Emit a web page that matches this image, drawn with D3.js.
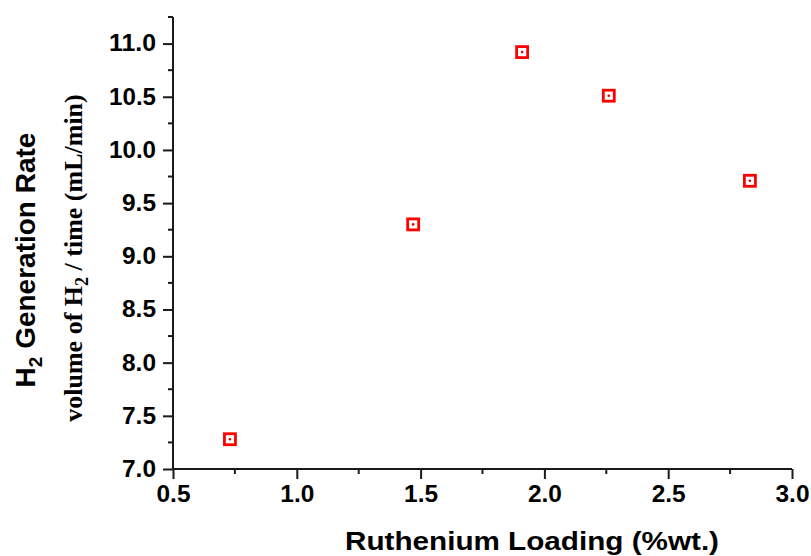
<!DOCTYPE html>
<html><head><meta charset="utf-8">
<script src="https://cdn.jsdelivr.net/npm/d3@7"></script>
<style>body{margin:0;background:#fff}svg{display:block}</style>
</head><body>
<svg id="c" width="811" height="556"></svg>
<script>
const loading = [0.73, 1.47, 1.91, 2.26, 2.83];
const rate = [7.28, 9.30, 10.92, 10.51, 9.71];
const xTicks = [0.5, 1.0, 1.5, 2.0, 2.5, 3.0];
const yTicks = [7.0, 7.5, 8.0, 8.5, 9.0, 9.5, 10.0, 10.5, 11.0];
const xMinor = [0.75, 1.25, 1.75, 2.25, 2.75];
const yMinor = [7.25, 7.75, 8.25, 8.75, 9.25, 9.75, 10.25, 10.75, 11.25];

const svg = d3.select("#c");
const x = d3.scaleLinear().domain([0.5, 3.0]).range([173, 792]);
const y = d3.scaleLinear().domain([7, 11.25]).range([469, 17]);
const axisColor = "#1a1a1a";

// minor ticks
const gx = svg.append("g").attr("transform", "translate(0,469)");
gx.selectAll("line.minor").data(xMinor).join("line")
  .attr("x1", d => x(d)).attr("x2", d => x(d)).attr("y1", 0).attr("y2", 5)
  .attr("stroke", axisColor).attr("stroke-width", 2);
const gy = svg.append("g").attr("transform", "translate(173,0)");
gy.selectAll("line.minor").data(yMinor).join("line")
  .attr("y1", d => y(d)).attr("y2", d => y(d)).attr("x1", 0).attr("x2", -5)
  .attr("stroke", axisColor).attr("stroke-width", 2);

// major axes
const xAxis = d3.axisBottom(x).tickValues(xTicks).tickFormat(d3.format(".1f")).tickSize(10).tickSizeOuter(0).tickPadding(7);
const yAxis = d3.axisLeft(y).tickValues(yTicks).tickFormat(d3.format(".1f")).tickSize(10).tickSizeOuter(0).tickPadding(7);
gx.call(xAxis);
gy.call(yAxis);
[gx, gy].forEach(g => {
  g.select(".domain").attr("stroke", axisColor).attr("stroke-width", 2);
  g.selectAll(".tick line").attr("stroke", axisColor).attr("stroke-width", 2);
  g.selectAll(".tick text").attr("fill", "#000")
    .attr("font-family", "'Liberation Sans', Arial, sans-serif")
    .attr("font-weight", "bold").attr("font-size", 23);
});
gx.select(".domain").attr("d", "M" + x(0.5) + ",0H" + x(3.0));
gy.select(".domain").attr("d", "M0," + y(11.25) + "V" + y(7));
gx.selectAll(".tick text").attr("dy", "0.71em")
  .each(function(d){ d3.select(this).attr("textLength", 34).attr("lengthAdjust", "spacingAndGlyphs"); });
gy.selectAll(".tick text")
  .each(function(d){ const t = d3.select(this); t.attr("textLength", t.text().length === 4 ? 47 : 34).attr("lengthAdjust", "spacingAndGlyphs"); });

// markers
const pts = svg.append("g");
pts.selectAll("rect").data(loading).join("rect")
  .attr("x", (d, i) => x(d) - 5.5).attr("y", (d, i) => y(rate[i]) - 5.5)
  .attr("width", 11).attr("height", 11)
  .attr("fill", "none").attr("stroke", "#f00").attr("stroke-width", 2.8);
pts.selectAll("circle").data(loading).join("circle")
  .attr("cx", d => x(d)).attr("cy", (d, i) => y(rate[i])).attr("r", 1.3).attr("fill", "#d00");

// x title
svg.append("text").attr("x", 532).attr("y", 550).attr("text-anchor", "middle")
  .attr("font-family", "'Liberation Sans', Arial, sans-serif").attr("font-weight", "bold")
  .attr("font-size", 25).attr("fill", "#000")
  .attr("textLength", 374).attr("lengthAdjust", "spacingAndGlyphs")
  .text("Ruthenium Loading (%wt.)");

// y title line 1
const t1 = svg.append("text").attr("transform", "translate(35,260) rotate(-90)")
  .attr("text-anchor", "middle")
  .attr("font-family", "'Liberation Sans', Arial, sans-serif").attr("font-weight", "bold")
  .attr("font-size", 28).attr("fill", "#000");
t1.append("tspan").text("H");
t1.append("tspan").attr("dy", 7).attr("font-size", 19).text("2");
t1.append("tspan").attr("dy", -7).text(" Generation Rate");

// y title line 2
const t2 = svg.append("text").attr("transform", "translate(82,258) rotate(-90)")
  .attr("text-anchor", "middle")
  .attr("font-family", "'Liberation Serif', 'Times New Roman', serif").attr("font-weight", "bold")
  .attr("font-size", 26).attr("fill", "#000");
t2.append("tspan").text("volume of H");
t2.append("tspan").attr("dy", 6).attr("font-size", 18).text("2");
t2.append("tspan").attr("dy", -6).text(" / time (mL/min)");
</script>
</body></html>
